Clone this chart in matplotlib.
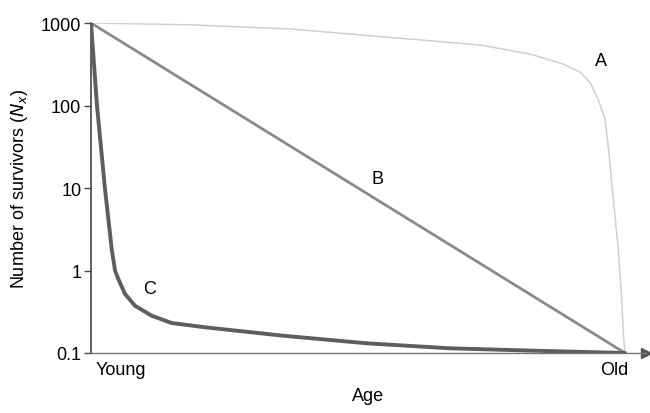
import matplotlib
matplotlib.use("Agg")
import matplotlib.pyplot as plt

plt.rcParams["font.family"] = ["Liberation Sans", "DejaVu Sans"]

# Survivorship curves (age scaled: 0 = young, 1 = old)
age_a = [0.0, 0.187, 0.3745, 0.7285, 0.822, 0.884, 0.916, 0.9345, 0.9494,
         0.9625, 0.9687, 0.978, 0.9875, 0.9938, 0.9975, 1.0]
surv_a = [1000, 950, 846, 541, 421, 318, 253, 191, 120,
          68.6, 32, 7.35, 1.82, 0.45, 0.148, 0.1]

age_b = [0.0, 1.0]
surv_b = [1000, 0.1]

age_c = [0.0, 0.0112, 0.026, 0.0388, 0.045, 0.0511, 0.0637, 0.0824,
         0.1137, 0.151, 0.2135, 0.3596, 0.517, 0.672, 0.822, 1.0]
surv_c = [1000, 100, 10, 1.82, 1.0, 0.79, 0.52, 0.374,
          0.283, 0.231, 0.205, 0.162, 0.131, 0.114, 0.107, 0.1]

y_ticks = [0.1, 1, 10, 100, 1000]
y_tick_labels = ["0.1", "1", "10", "100", "1000"]
x_ticks = [0.056, 0.98]
x_tick_labels = ["Young", "Old"]

fig = plt.figure(figsize=(6.5, 4.14), dpi=100)
ax = fig.add_axes([91 / 650, 60 / 414, 555 / 650, 330 / 414])

ax.plot(age_a, surv_a, color="#d0d0d0", lw=1.1, zorder=2)
ax.plot(age_b, surv_b, color="#8a8a8a", lw=2.0, zorder=3)
ax.plot(age_c, surv_c, color="#5e5e5e", lw=2.8, zorder=4,
        solid_capstyle="round", solid_joinstyle="round")

ax.set_yscale("log")
ax.set_ylim(0.1, 1000)
ax.set_xlim(0, 555 / 534)

ax.set_yticks(y_ticks)
ax.set_yticklabels(y_tick_labels)
ax.minorticks_off()
ax.tick_params(axis="y", direction="out", length=5, width=1.0,
               labelsize=13, pad=2, color="#444")
ax.set_xticks(x_ticks)
ax.set_xticklabels(x_tick_labels)
ax.tick_params(axis="x", length=0, labelsize=13, pad=6)

for s in ("top", "right"):
    ax.spines[s].set_visible(False)
ax.spines["left"].set_color("#444")
ax.spines["bottom"].set_color("#777")
ax.spines["left"].set_linewidth(1.2)
ax.spines["bottom"].set_linewidth(1.0)
ax.plot(1.0, 0, ">", color="#555", markersize=7, transform=ax.transAxes,
        clip_on=False)

ax.text(0.955, 347, "A", fontsize=13, ha="center", va="center")
ax.text(0.537, 12.9, "B", fontsize=13, ha="center", va="center")
ax.text(0.11, 0.6, "C", fontsize=13, ha="center", va="center")

ax.set_xlabel("Age", fontsize=13, labelpad=6)
ax.set_ylabel("Number of survivors ($N_x$)", fontsize=13, labelpad=8)

fig.savefig("out.png", dpi=100)
